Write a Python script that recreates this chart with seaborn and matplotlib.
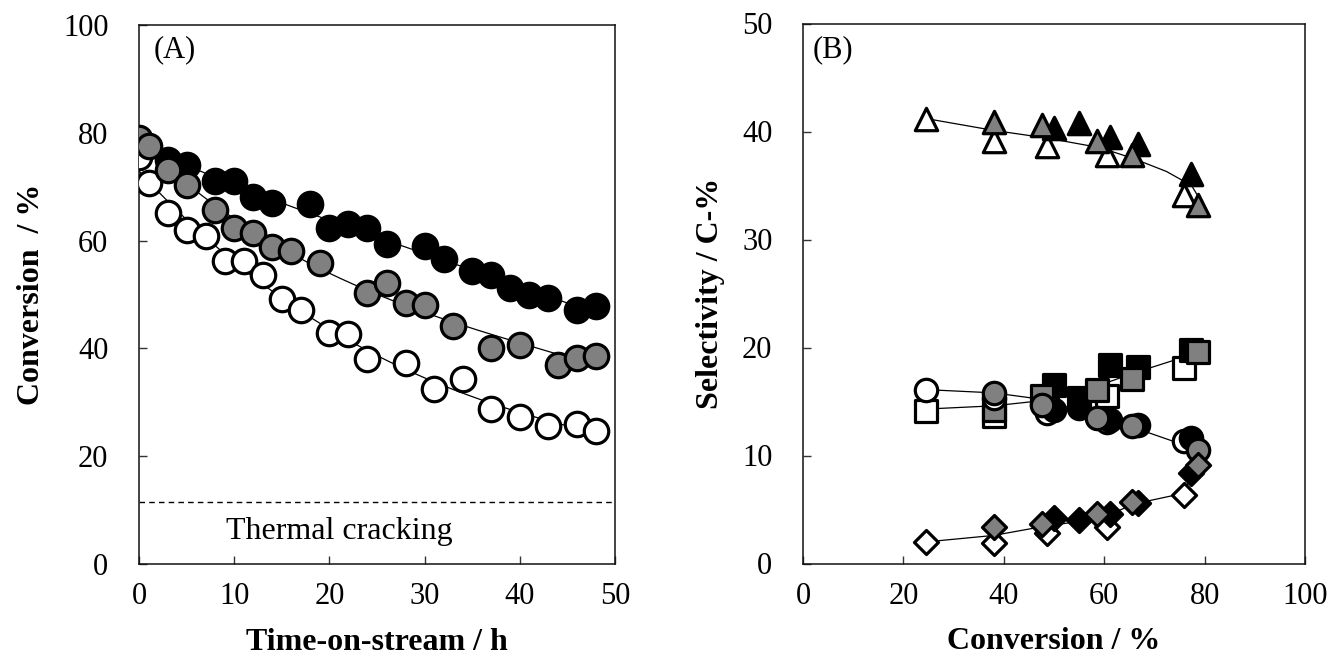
import numpy as np
import pandas as pd
import matplotlib
matplotlib.use("Agg")
import matplotlib.pyplot as plt
import seaborn as sns

sns.set_theme(style="white")
plt.rcParams['font.family'] = ['Liberation Serif', 'DejaVu Serif']
plt.rcParams['text.color'] = 'black'
plt.rcParams['axes.labelcolor'] = 'black'
plt.rcParams['xtick.color'] = 'black'
plt.rcParams['ytick.color'] = 'black'

# ---------------- Panel A data: conversion vs time-on-stream ----------------
a_time_black = [0, 3, 5, 8, 10, 12, 14, 18, 20, 22, 24, 26, 30, 32, 35, 37, 39, 41, 43, 46, 48]
a_conv_black = [78.5, 75.0, 74.0, 71.0, 71.0, 68.0, 67.0, 66.8, 62.3, 63.0, 62.3, 59.3, 59.0,
                56.5, 54.3, 53.7, 51.2, 50.0, 49.4, 47.2, 47.8]
a_time_gray = [0, 1, 3, 5, 8, 10, 12, 14, 16, 19, 24, 26, 28, 30, 33, 37, 40, 44, 46, 48]
a_conv_gray = [79.0, 77.5, 73.1, 70.4, 65.7, 62.3, 61.4, 58.9, 58.0, 55.9, 50.3, 52.2, 48.5,
               48.1, 44.1, 40.1, 40.7, 37.0, 38.3, 38.6]
a_time_white = [0, 1, 3, 5, 7, 9, 11, 13, 15, 17, 20, 22, 24, 28, 31, 34, 37, 40, 43, 46, 48]
a_conv_white = [75.6, 70.7, 65.1, 62.0, 60.8, 56.2, 56.2, 53.7, 49.2, 47.2, 42.9, 42.6, 38.0,
                37.3, 32.4, 34.3, 28.7, 27.2, 25.6, 25.9, 24.7]
thermal_cracking = 11.5

# ---------------- Panel B data: selectivity vs conversion ----------------
b_conv_white = [24.5, 38.0, 48.7, 60.6, 75.8]
b_conv_gray = [38.0, 47.6, 58.6, 65.5, 78.6]
b_conv_black = [50.0, 55.0, 61.2, 66.8, 77.3]

b_tri_white = [41.2, 39.1, 38.7, 37.8, 34.1]
b_tri_gray = [40.9, 40.6, 39.1, 37.8, 33.2]
b_tri_black = [40.3, 40.8, 39.5, 38.8, 36.1]

b_sq_white = [14.1, 13.7, 14.8, 15.5, 18.1]
b_sq_gray = [14.2, 15.5, 16.1, 17.1, 19.6]
b_sq_black = [16.5, 15.3, 18.4, 18.2, 19.8]

b_ci_white = [16.1, 15.3, 13.9, 13.1, 11.3]
b_ci_gray = [15.8, 14.7, 13.5, 12.7, 10.5]
b_ci_black = [14.2, 14.4, 13.3, 12.8, 11.6]

b_di_white = [2.0, 1.9, 2.8, 3.4, 6.3]
b_di_gray = [3.4, 3.7, 4.6, 5.7, 9.1]
b_di_black = [4.2, 4.0, 4.6, 5.6, 8.4]

# guide-to-the-eye curves in panel B
g_tri_x = [24.5, 38.0, 48.5, 59.2, 65.8, 72.4, 77.4, 80.0]
g_tri_y = [41.2, 40.1, 39.4, 38.5, 37.5, 36.3, 35.0, 33.0]
g_sq_x = [24.5, 38.0, 46.0, 57.2, 65.7, 75.1, 78.4]
g_sq_y = [14.3, 14.6, 15.0, 16.2, 17.6, 19.0, 19.6]
g_ci_x = [24.5, 38.0, 46.0, 55.0, 60.0, 65.8, 75.1, 78.6]
g_ci_y = [16.1, 15.8, 15.3, 14.2, 13.4, 12.6, 11.1, 10.5]
g_di_x = [24.5, 38.0, 47.5, 55.0, 61.0, 65.8, 75.8, 78.4]
g_di_y = [2.0, 2.6, 3.4, 3.9, 4.5, 5.5, 6.5, 9.1]

a_xticks = [0, 10, 20, 30, 40, 50]
a_yticks = [0, 20, 40, 60, 80, 100]
b_xticks = [0, 20, 40, 60, 80, 100]
b_yticks = [0, 10, 20, 30, 40, 50]

GRAY = "#808080"
FS = 22      # tick labels / panel letters
FL = 23      # axis labels (bold)
FT = 23      # "Thermal cracking"
EW = 2.3

fig = plt.figure(figsize=(13.3, 6.63), dpi=100)
axA = fig.add_axes([139 / 1330, 1 - 564 / 663, (615 - 139) / 1330, (564 - 25) / 663])
axB = fig.add_axes([803 / 1330, 1 - 563.5 / 663, (1305 - 803) / 1330, (563.5 - 23.5) / 663])

# ---- Panel A ----
seriesA = [(a_time_black, a_conv_black, "black"),
           (a_time_white, a_conv_white, "white"),
           (a_time_gray, a_conv_gray, GRAY)]
for t, c, col in seriesA:
    coef = np.polyfit(t, c, 3)
    tt = np.linspace(min(t), max(t), 200)
    dfl = pd.DataFrame({"t": tt, "c": np.polyval(coef, tt)})
    sns.lineplot(data=dfl, x="t", y="c", ax=axA, color="black", lw=0.9, zorder=1)
for t, c, col in seriesA:
    df = pd.DataFrame({"t": t, "c": c})
    sns.scatterplot(data=df, x="t", y="c", ax=axA, color=col, edgecolor="black",
                    linewidth=EW, s=310, marker="o", zorder=3)
axA.axhline(thermal_cracking, color="black", lw=1.0, ls=(0, (4, 3)), zorder=1)
axA.text(21, 6, "Thermal cracking", fontsize=FT, ha="center", va="center")
axA.text(1.5, 95.5, "(A)", fontsize=FS, ha="left", va="center")
axA.set_xlim(0, 50)
axA.set_ylim(0, 100)
axA.set_xticks(a_xticks)
axA.set_yticks(a_yticks)
axA.set_xlabel("Time-on-stream / h", fontsize=FL, fontweight="bold", labelpad=12)
axA.set_ylabel("Conversion  / %", fontsize=FL, fontweight="bold", labelpad=12)

# ---- Panel B ----
for gx, gy in [(g_tri_x, g_tri_y), (g_sq_x, g_sq_y), (g_ci_x, g_ci_y), (g_di_x, g_di_y)]:
    dfl = pd.DataFrame({"x": gx, "y": gy})
    sns.lineplot(data=dfl, x="x", y="y", ax=axB, color="black", lw=0.9, zorder=1, sort=False)

groups = [("^", 260, b_tri_white, b_tri_black, b_tri_gray),
          ("s", 255, b_sq_white, b_sq_black, b_sq_gray),
          ("o", 260, b_ci_white, b_ci_black, b_ci_gray),
          ("D", 150, b_di_white, b_di_black, b_di_gray)]
z = 3
for mk, sz, yw, yb, yg in groups:
    for xs, ys, col in [(b_conv_white, yw, "white"), (b_conv_black, yb, "black"),
                        (b_conv_gray, yg, GRAY)]:
        df = pd.DataFrame({"x": xs, "y": ys})
        sns.scatterplot(data=df, x="x", y="y", ax=axB, color=col, edgecolor="black",
                        linewidth=EW, s=sz, marker=mk, zorder=z)
        z += 0.1
axB.text(2, 47.6, "(B)", fontsize=FS, ha="left", va="center")
axB.set_xlim(0, 100)
axB.set_ylim(0, 50)
axB.set_xticks(b_xticks)
axB.set_yticks(b_yticks)
axB.set_xlabel("Conversion / %", fontsize=FL, fontweight="bold", labelpad=12)
axB.set_ylabel("Selectivity / C-%", fontsize=FL, fontweight="bold", labelpad=12)

for ax in (axA, axB):
    for sp in ax.spines.values():
        sp.set_color("#111111")
        sp.set_linewidth(1.1)
        sp.set_visible(True)
    ax.tick_params(axis="both", which="both", direction="in", length=6, width=1.0,
                   color="#333333", labelsize=FS, labelcolor="black", top=False, right=False,
                   bottom=True, left=True)
    ax.tick_params(axis="x", pad=13)
    ax.tick_params(axis="y", pad=22)
    ax.set_facecolor("white")

fig.savefig("out.png", dpi=100, facecolor="white")
